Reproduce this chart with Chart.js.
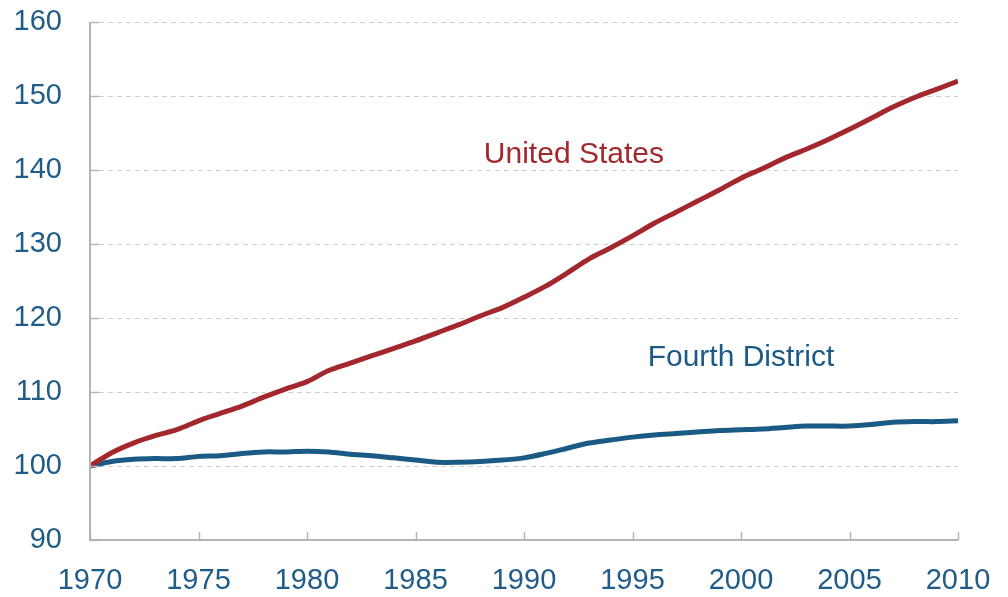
<!DOCTYPE html>
<html>
<head>
<meta charset="utf-8">
<script src="https://cdn.jsdelivr.net/npm/chart.js@4/dist/chart.umd.min.js"></script>
<style>
  html, body { margin: 0; padding: 0; background: #fff; }
  #wrap { width: 1008px; height: 597px; }
</style>
</head>
<body>
<div id="wrap"><canvas id="chart" width="1008" height="597"></canvas></div>
<script>
// annual index, 1970 = 100
var years = [];
for (var y = 1970; y <= 2010; y++) years.push(y);

var unitedStates = [
    100.0, 101.8, 103.1, 104.1, 104.9, 106.1, 107.1, 108.1, 109.3, 110.4,
    111.4, 112.9, 113.9, 114.9, 115.9, 116.9, 118.0, 119.1, 120.3, 121.4,
    122.8, 124.3, 126.1, 128.0, 129.5, 131.1, 132.8, 134.3, 135.8, 137.3,
    138.9, 140.2, 141.6, 142.8, 144.1, 145.5, 147.0, 148.5, 149.8, 150.9,
    152.0
];
var fourthDistrict = [
    100.0, 100.6, 100.9, 101.0, 101.0, 101.3, 101.4, 101.7, 101.9, 101.9,
    102.0, 101.9, 101.6, 101.4, 101.1, 100.8, 100.5, 100.5, 100.6, 100.8,
    101.1, 101.7, 102.4, 103.1, 103.5, 103.9, 104.2, 104.4, 104.6, 104.8,
    104.9, 105.0, 105.2, 105.4, 105.4, 105.4, 105.6, 105.9, 106.0, 106.0,
    106.1
];
var seriesNames = ["United States", "Fourth District"];
// where the series names sit, in data units
var labelSpots = [[1992.3, 142.0], [2000.0, 114.6]];

var RED = "#a3282e";
var BLUE = "#1a5a85";
var TICK_TEXT = "#1f5c87";
var AXIS = "#b4b4b4";
var FONT = "'Liberation Sans', Arial, sans-serif";

function toPoints(vals) {
    return vals.map(function (v, i) { return { x: years[i], y: v }; });
}

// little tick marks pointing into the plot, solid axes, and the series names
var extras = {
    id: "extras",
    afterDraw: function (chart) {
        var ctx = chart.ctx;
        var area = chart.chartArea;
        var xs = chart.scales.x, ys = chart.scales.y;
        ctx.save();
        ctx.setLineDash([]);
        ctx.strokeStyle = AXIS;
        ctx.lineWidth = 2;
        ctx.beginPath();
        ctx.moveTo(area.left, area.top);
        ctx.lineTo(area.left, area.bottom);
        ctx.lineTo(area.right, area.bottom);
        ctx.stroke();
        ctx.lineWidth = 1.5;
        ys.ticks.forEach(function (t) {
            var py = Math.round(ys.getPixelForValue(t.value)) + 0.5;
            ctx.beginPath();
            ctx.moveTo(area.left, py);
            ctx.lineTo(area.left + 9, py);
            ctx.stroke();
        });
        xs.ticks.forEach(function (t) {
            var px = Math.round(xs.getPixelForValue(t.value)) + 0.5;
            ctx.beginPath();
            ctx.moveTo(px, area.bottom);
            ctx.lineTo(px, area.bottom - 8);
            ctx.stroke();
        });
        ctx.font = "30px " + FONT;
        ctx.textAlign = "center";
        ctx.textBaseline = "middle";
        var colors = [RED, BLUE];
        labelSpots.forEach(function (s, i) {
            ctx.fillStyle = colors[i];
            ctx.fillText(seriesNames[i], xs.getPixelForValue(s[0]), ys.getPixelForValue(s[1]));
        });
        ctx.restore();
    }
};

new Chart(document.getElementById("chart"), {
    type: "line",
    data: {
        datasets: [
            {
                label: seriesNames[0],
                data: toPoints(unitedStates),
                borderColor: RED,
                borderWidth: 5,
                pointRadius: 0,
                tension: 0.3,
                fill: false
            },
            {
                label: seriesNames[1],
                data: toPoints(fourthDistrict),
                borderColor: BLUE,
                borderWidth: 5,
                pointRadius: 0,
                tension: 0.3,
                fill: false
            }
        ]
    },
    options: {
        responsive: false,
        animation: false,
        layout: { padding: { top: 22, right: 50, left: 0, bottom: 0 } },
        plugins: {
            legend: { display: false },
            tooltip: { enabled: false }
        },
        scales: {
            x: {
                type: "linear",
                min: 1970,
                max: 2010,
                ticks: {
                    stepSize: 5,
                    color: TICK_TEXT,
                    font: { family: FONT, size: 29 },
                    padding: 0,
                    maxRotation: 0,
                    callback: function (v) { return String(v); }
                },
                // invisible tick marks only used to push labels down
                grid: {
                    display: true,
                    drawOnChartArea: false,
                    drawTicks: true,
                    tickLength: 24,
                    color: "rgba(0,0,0,0)",
                    tickColor: "rgba(0,0,0,0)"
                },
                border: { display: false },
                afterFit: function (scale) { scale.height = 57; }
            },
            y: {
                min: 90,
                max: 160,
                ticks: {
                    stepSize: 10,
                    color: TICK_TEXT,
                    font: { family: FONT, size: 29 },
                    padding: 0
                },
                grid: {
                    color: "#d0d0c8",
                    lineWidth: 1,
                    drawTicks: true,
                    tickLength: 28,
                    tickColor: "rgba(0,0,0,0)"
                },
                border: { display: false, dash: [5, 4] },
                afterFit: function (scale) { scale.width = 90; }
            }
        }
    },
    plugins: [extras]
});
</script>
</body>
</html>
